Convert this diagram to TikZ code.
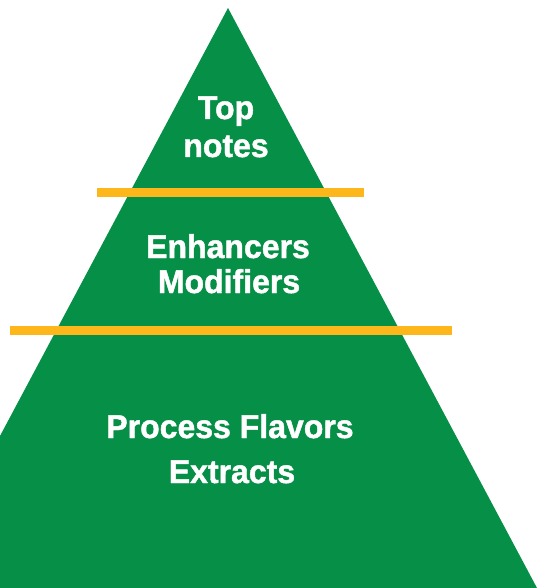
\documentclass[tikz,border=0pt]{standalone}
\usepackage{fontspec}
\setmainfont[FakeStretch=0.97,BoldFeatures={FakeBold=1.3}]{Liberation Sans}
\definecolor{pyrgreen}{RGB}{6,143,70}
\definecolor{bandorange}{RGB}{253,183,26}
\begin{document}
\begin{tikzpicture}[x=1pt,y=-1pt,
  label/.style={anchor=base,text=white,font=\fontsize{33}{36}\selectfont\bfseries,inner sep=0pt},
  band/.style={fill=bandorange,draw=none}]
\useasboundingbox (0,0) rectangle (537,588);
\begin{scope}
  \clip (0,0) rectangle (537,588);
  % pyramid
  \fill[pyrgreen] (228,8) -- (537,588) -- (-81,588) -- cycle;
\end{scope}
% separating bands
\fill[band] (96.5,188.3) rectangle (363.7,197);
\fill[band] (10,326) rectangle (452,334.8);
% tier labels
\node[label] (top1) at (226,119) {Top};
\node[label] (top2) at (226,157) {notes};
\node[label] (mid1) at (228,258) {Enhancers};
\node[label] (mid2) at (229,293) {Modifiers};
\node[label] (bot1) at (230,438) {Process Flavors};
\node[label] (bot2) at (232,483) {Extracts};
\end{tikzpicture}
\end{document}
